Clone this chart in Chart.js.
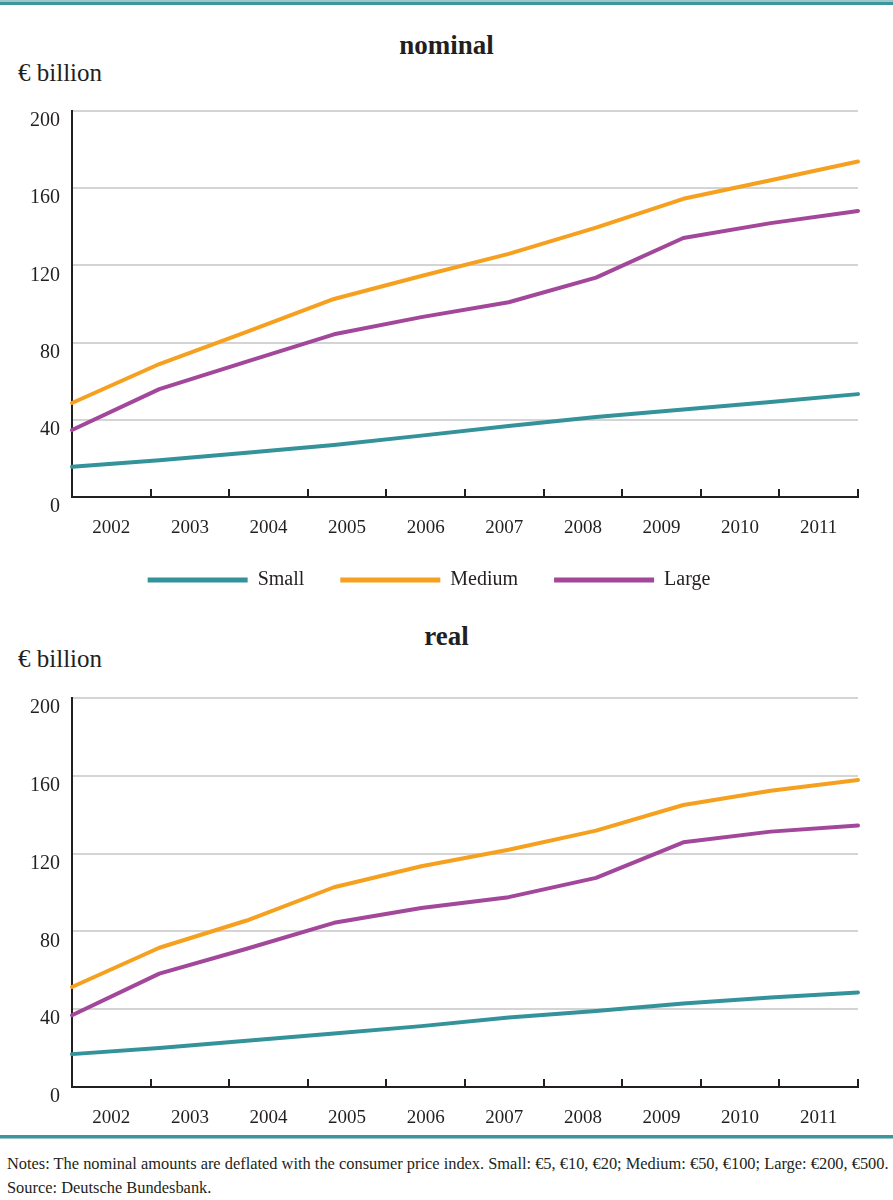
<!DOCTYPE html>
<html>
<head>
<meta charset="utf-8">
<script src="https://cdn.jsdelivr.net/npm/chart.js@4"></script>
<style>
  html, body { margin: 0; padding: 0; background: #fff; }
  body { width: 893px; height: 1200px; position: relative; overflow: hidden;
         font-family: "Liberation Serif", serif; color: #231f20; }
  .abs { position: absolute; }
  .topline { left: 0; top: 0; width: 893px; height: 2px; background: #9cc6ca;
             border-bottom: 3px solid #3a979d; }
  .sep { left: 0; top: 1135px; width: 893px; height: 3px; background: #3a979d;
         border-bottom: 1px solid #9cc6ca; }
  .title { width: 893px; left: 0; text-align: center; font-weight: bold; font-size: 27px; }
  .unit { left: 18px; font-size: 25px; }
  .notes { left: 7px; top: 1152px; font-size: 16.4px; line-height: 24px; white-space: nowrap; }
  .wrap { left: 0; width: 893px; }
</style>
</head>
<body>
<div class="abs topline"></div>

<div class="abs title" style="top:30px">nominal</div>
<div class="abs unit" style="top:59px">€ billion</div>
<div class="abs wrap" style="top:87px;height:513px"><canvas id="nominal"></canvas></div>

<div class="abs title" style="top:621px">real</div>
<div class="abs unit" style="top:645px">€ billion</div>
<div class="abs wrap" style="top:674px;height:463px"><canvas id="real"></canvas></div>

<div class="abs sep"></div>
<div class="abs notes">Notes: The nominal amounts are deflated with the consumer price index. Small: €5, €10, €20; Medium: €50, €100; Large: €200, €500.<br>Source: Deutsche Bundesbank.</div>

<script>
// ── Data ──────────────────────────────────────────────────────────
const years = ['2002', '2003', '2004', '2005', '2006', '2007', '2008', '2009', '2010', '2011'];

const nominalSmall  = [15.7, 19.1, 22.9, 27.0, 31.8, 36.8, 41.5, 45.3, 49.2, 53.3];
const nominalMedium = [48.7, 68.9, 85.6, 102.6, 114.5, 126.0, 139.6, 154.5, 164.1, 173.8];
const nominalLarge  = [34.7, 55.9, 70.1, 84.3, 93.2, 100.9, 113.7, 134.2, 141.9, 148.2];

const realSmall  = [16.9, 20.0, 23.8, 27.5, 31.3, 35.7, 39.1, 42.9, 46.0, 48.6];
const realMedium = [51.4, 71.6, 85.6, 102.7, 113.5, 122.0, 131.8, 145.0, 152.3, 157.8];
const realLarge  = [36.9, 58.3, 71.1, 84.4, 92.0, 97.6, 107.5, 125.8, 131.3, 134.4];

const yMin = 0, yMax = 200, yStep = 40;

// ── Style ─────────────────────────────────────────────────────────
const TEAL = '#34939a', ORANGE = '#f6a01f', PURPLE = '#a2479a';
const INK = '#231f20', GRID = '#d4d4d4';

Chart.defaults.font.family = '"Liberation Serif", serif';
Chart.defaults.color = INK;

function series(label, data, color) {
  return {
    label, data,
    borderColor: color, backgroundColor: color,
    borderWidth: 4, pointRadius: 0, tension: 0,
    borderCapStyle: 'round', borderJoinStyle: 'round', clip: 4,
  };
}

function buildChart(canvasId, small, medium, large, withLegend, xlHeight) {
  return new Chart(document.getElementById(canvasId), {
    type: 'line',
    data: {
      labels: years,
      datasets: [
        series('Small', small, TEAL),
        series('Medium', medium, ORANGE),
        series('Large', large, PURPLE),
      ],
    },
    options: {
      responsive: true,
      maintainAspectRatio: false,
      animation: false,
      layout: { padding: { top: 10, right: 35, left: 0, bottom: 0 } },
      plugins: {
        tooltip: { enabled: false },
        legend: {
          display: withLegend,
          position: 'bottom',
          labels: {
            boxWidth: 100, boxHeight: 5, padding: 36,
            font: { size: 20 }, color: INK,
            generateLabels: chart =>
              Chart.defaults.plugins.legend.labels.generateLabels(chart)
                .map(l => ({ ...l, lineWidth: 0 })),
          },
        },
      },
      scales: {
        // data axis: first and last year sit on the plot edges
        x: { type: 'category', display: false, offset: false },
        // label axis: years centred between tick marks
        xl: {
          type: 'category', position: 'bottom', offset: true,
          grid: { offset: true, drawOnChartArea: false, drawTicks: true,
                  tickLength: -8, color: INK, lineWidth: 2 },
          border: { display: true, color: INK, width: 2 },
          ticks: { font: { size: 19 }, color: INK, padding: 28, maxRotation: 0 },
          afterFit: s => { s.height = xlHeight; },
        },
        y: {
          min: yMin, max: yMax,
          ticks: { stepSize: yStep, font: { size: 20 }, color: INK, padding: 12, labelOffset: 10 },
          grid: { color: GRID, lineWidth: 2, drawTicks: false },
          border: { display: true, color: INK, width: 2 },
          afterFit: s => { s.width = 72; },
        },
      },
    },
  });
}

buildChart('nominal', nominalSmall, nominalMedium, nominalLarge, true, 37);
buildChart('real', realSmall, realMedium, realLarge, false, 50);
</script>
</body>
</html>
